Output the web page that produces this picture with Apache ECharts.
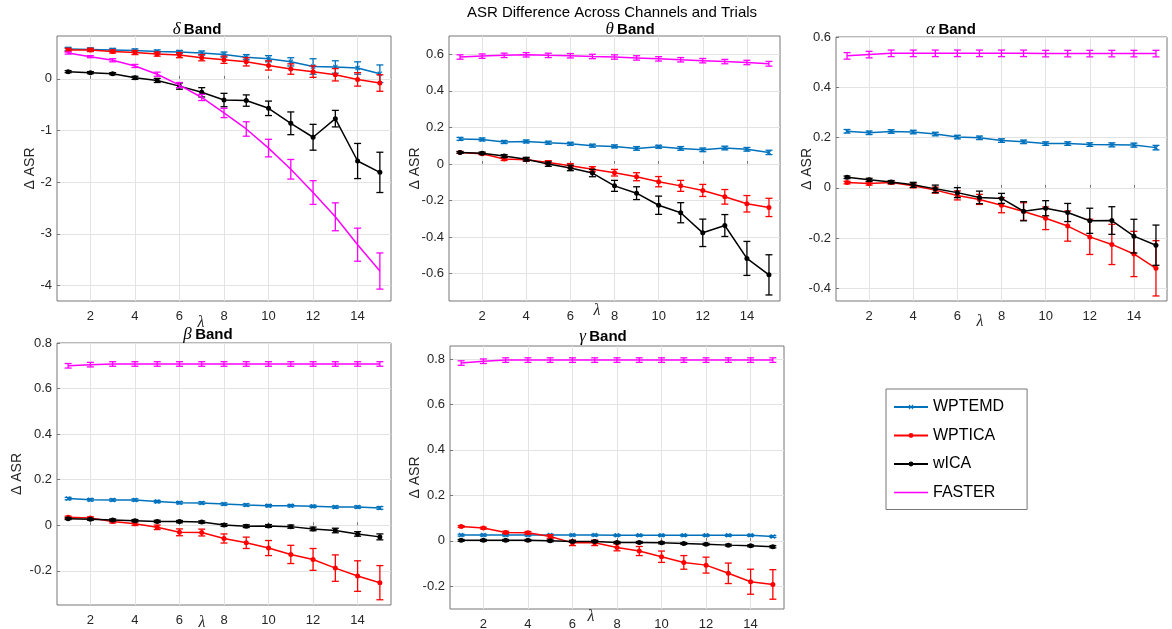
<!DOCTYPE html>
<html>
<head>
<meta charset="utf-8">
<script src="https://cdn.jsdelivr.net/npm/echarts@6/dist/echarts.min.js"></script>
<style>html,body{margin:0;padding:0;background:#fff;}#c{width:1172px;height:629px;}</style>
</head>
<body>
<div id="c"></div>
<script>
// ---------- DATA ----------
const lambdas = [1,2,3,4,5,6,7,8,9,10,11,12,13,14,15];
const methods = ['WPTEMD','WPTICA','wICA','FASTER'];
const xTicks = [2,4,6,8,10,12,14];

// delta band
const deltaWPTEMD    = [0.58,0.57,0.56,0.55,0.53,0.52,0.50,0.47,0.42,0.39,0.33,0.24,0.23,0.21,0.10];
const deltaWPTEMDErr = [0.03,0.03,0.03,0.03,0.03,0.03,0.04,0.05,0.05,0.06,0.08,0.15,0.12,0.12,0.17];
const deltaWPTICA    = [0.56,0.56,0.53,0.51,0.48,0.46,0.41,0.37,0.33,0.26,0.19,0.14,0.08,-0.01,-0.08];
const deltaWPTICAErr = [0.03,0.03,0.03,0.04,0.04,0.05,0.06,0.07,0.08,0.09,0.10,0.11,0.12,0.13,0.16];
const deltaWICA      = [0.14,0.12,0.10,0.02,-0.03,-0.14,-0.26,-0.41,-0.42,-0.57,-0.86,-1.13,-0.77,-1.59,-1.81];
const deltaWICAErr   = [0.02,0.02,0.02,0.03,0.04,0.06,0.09,0.13,0.11,0.14,0.22,0.25,0.16,0.34,0.39];
const deltaFASTER    = [0.50,0.43,0.36,0.25,0.09,-0.12,-0.36,-0.66,-0.97,-1.34,-1.75,-2.20,-2.67,-3.21,-3.72];
const deltaFASTERErr = [0.02,0.02,0.03,0.03,0.04,0.05,0.06,0.09,0.14,0.17,0.19,0.23,0.27,0.32,0.35];

// theta band
const thetaWPTEMD    = [0.137,0.134,0.120,0.123,0.116,0.110,0.100,0.096,0.085,0.094,0.085,0.077,0.087,0.080,0.063];
const thetaWPTEMDErr = [0.008,0.008,0.008,0.008,0.008,0.008,0.008,0.008,0.010,0.008,0.010,0.010,0.010,0.010,0.012];
const thetaWPTICA    = [0.063,0.056,0.027,0.023,0.008,-0.010,-0.029,-0.048,-0.070,-0.097,-0.120,-0.145,-0.180,-0.218,-0.238];
const thetaWPTICAErr = [0.005,0.006,0.008,0.008,0.010,0.012,0.014,0.018,0.022,0.028,0.030,0.033,0.040,0.045,0.050];
const thetaWICA      = [0.063,0.059,0.043,0.026,-0.001,-0.022,-0.050,-0.120,-0.160,-0.226,-0.267,-0.377,-0.337,-0.517,-0.607];
const thetaWICAErr   = [0.005,0.006,0.008,0.010,0.012,0.015,0.020,0.030,0.035,0.050,0.055,0.075,0.060,0.093,0.110];
const thetaFASTER    = [0.585,0.590,0.594,0.597,0.594,0.592,0.588,0.585,0.580,0.575,0.570,0.565,0.560,0.555,0.548];
const thetaFASTERErr = [0.012,0.012,0.012,0.012,0.012,0.012,0.012,0.012,0.012,0.012,0.012,0.012,0.012,0.012,0.013];

// alpha band
const alphaWPTEMD    = [0.225,0.219,0.224,0.222,0.214,0.202,0.199,0.188,0.183,0.176,0.176,0.172,0.171,0.170,0.160];
const alphaWPTEMDErr = [0.007,0.007,0.007,0.007,0.007,0.007,0.007,0.007,0.007,0.007,0.007,0.007,0.008,0.008,0.009];
const alphaWPTICA    = [0.021,0.017,0.021,0.008,-0.009,-0.030,-0.046,-0.069,-0.094,-0.121,-0.152,-0.195,-0.225,-0.263,-0.320];
const alphaWPTICAErr = [0.005,0.006,0.006,0.008,0.012,0.018,0.020,0.030,0.035,0.045,0.060,0.070,0.080,0.090,0.110];
const alphaWICA      = [0.042,0.032,0.023,0.012,-0.004,-0.019,-0.038,-0.042,-0.093,-0.081,-0.098,-0.131,-0.130,-0.192,-0.228];
const alphaWICAErr   = [0.005,0.006,0.006,0.010,0.015,0.020,0.025,0.020,0.038,0.030,0.036,0.050,0.055,0.067,0.080];
const alphaFASTER    = [0.525,0.530,0.535,0.535,0.535,0.535,0.535,0.535,0.535,0.534,0.534,0.534,0.534,0.534,0.534];
const alphaFASTERErr = [0.013,0.013,0.013,0.013,0.013,0.013,0.013,0.013,0.013,0.013,0.013,0.013,0.013,0.013,0.013];

// beta band
const betaWPTEMD     = [0.117,0.112,0.111,0.111,0.104,0.099,0.098,0.093,0.089,0.086,0.086,0.083,0.080,0.080,0.076];
const betaWPTEMDErr  = [0.005,0.005,0.005,0.005,0.005,0.005,0.005,0.005,0.005,0.005,0.005,0.005,0.005,0.005,0.006];
const betaWPTICA     = [0.035,0.032,0.017,0.007,-0.009,-0.031,-0.032,-0.058,-0.077,-0.100,-0.128,-0.150,-0.188,-0.223,-0.252];
const betaWPTICAErr  = [0.005,0.005,0.007,0.008,0.010,0.015,0.015,0.020,0.025,0.033,0.040,0.048,0.058,0.067,0.075];
const betaWICA       = [0.029,0.026,0.023,0.020,0.017,0.016,0.014,0.001,-0.004,-0.003,-0.006,-0.016,-0.023,-0.038,-0.051];
const betaWICAErr    = [0.004,0.004,0.005,0.005,0.005,0.005,0.005,0.006,0.006,0.006,0.007,0.008,0.010,0.010,0.013];
const betaFASTER     = [0.700,0.705,0.708,0.708,0.708,0.708,0.708,0.708,0.708,0.708,0.708,0.708,0.708,0.708,0.708];
const betaFASTERErr  = [0.010,0.010,0.010,0.010,0.010,0.010,0.010,0.010,0.010,0.010,0.010,0.010,0.010,0.010,0.010];

// gamma band
const gammaWPTEMD    = [0.025,0.025,0.025,0.025,0.025,0.025,0.025,0.024,0.024,0.024,0.024,0.024,0.024,0.024,0.019];
const gammaWPTEMDErr = [0.004,0.004,0.004,0.004,0.004,0.004,0.004,0.004,0.004,0.004,0.004,0.004,0.004,0.004,0.004];
const gammaWPTICA    = [0.063,0.056,0.037,0.035,0.019,-0.009,-0.009,-0.029,-0.045,-0.070,-0.095,-0.107,-0.143,-0.180,-0.192];
const gammaWPTICAErr = [0.004,0.004,0.005,0.006,0.008,0.012,0.012,0.015,0.020,0.025,0.030,0.035,0.045,0.055,0.065];
const gammaWICA      = [0.002,0.002,0.002,0.002,0.000,-0.003,-0.003,-0.007,-0.007,-0.009,-0.012,-0.015,-0.019,-0.022,-0.026];
const gammaWICAErr   = [0.004,0.004,0.004,0.004,0.004,0.004,0.004,0.004,0.004,0.004,0.004,0.004,0.004,0.004,0.005];
const gammaFASTER    = [0.782,0.790,0.795,0.795,0.795,0.795,0.795,0.795,0.795,0.795,0.795,0.795,0.795,0.795,0.795];
const gammaFASTERErr = [0.010,0.010,0.010,0.010,0.010,0.010,0.010,0.010,0.010,0.010,0.010,0.010,0.010,0.010,0.010];

const deltaYTicks = [-4,-3,-2,-1,0];
const thetaYTicks = [-0.6,-0.4,-0.2,0,0.2,0.4,0.6];
const alphaYTicks = [-0.4,-0.2,0,0.2,0.4,0.6];
const betaYTicks  = [-0.2,0,0.2,0.4,0.6,0.8];
const gammaYTicks = [-0.2,0,0.2,0.4,0.6,0.8];

// ---------- LAYOUT / STYLE ----------
const FONT = 'Liberation Sans, Arial, sans-serif';
const SERIF = 'Liberation Serif, Times New Roman, serif';
const colors = {WPTEMD:'#0072BD', WPTICA:'#FF0000', wICA:'#000000', FASTER:'#FF00FF'};
const xSymbol = 'path://M0,1.5L1.5,0L5,3.5L8.5,0L10,1.5L6.5,5L10,8.5L8.5,10L5,6.5L1.5,10L0,8.5L3.5,5Z';
const symbols = {WPTEMD:xSymbol, WPTICA:'circle', wICA:'circle', FASTER:'none'};
const symSize = {WPTEMD:5, WPTICA:5, wICA:5, FASTER:0};

const panels = [
  {greek:'δ', data:[deltaWPTEMD,deltaWPTICA,deltaWICA,deltaFASTER], err:[deltaWPTEMDErr,deltaWPTICAErr,deltaWICAErr,deltaFASTERErr],
   yTicks:deltaYTicks, ymin:-4.3, ymax:0.83, grid:{left:57,top:36,width:334,height:265}, title:[197,30], yGap:20, xGap:14, xPad:46},
  {greek:'θ', data:[thetaWPTEMD,thetaWPTICA,thetaWICA,thetaFASTER], err:[thetaWPTEMDErr,thetaWPTICAErr,thetaWICAErr,thetaFASTERErr],
   yTicks:thetaYTicks, ymin:-0.75, ymax:0.7, grid:{left:449,top:36,width:331,height:265}, title:[630,30], yGap:27, xGap:2, xPad:35},
  {greek:'α', data:[alphaWPTEMD,alphaWPTICA,alphaWICA,alphaFASTER], err:[alphaWPTEMDErr,alphaWPTICAErr,alphaWICAErr,alphaFASTERErr],
   yTicks:alphaYTicks, ymin:-0.45, ymax:0.6, grid:{left:836,top:37,width:331,height:264}, title:[951,30], yGap:22, xGap:13, xPad:43},
  {greek:'β', data:[betaWPTEMD,betaWPTICA,betaWICA,betaFASTER], err:[betaWPTEMDErr,betaWPTICAErr,betaWICAErr,betaFASTERErr],
   yTicks:betaYTicks, ymin:-0.35, ymax:0.8, grid:{left:57,top:343,width:334,height:262}, title:[208,335], yGap:33, xGap:10, xPad:44},
  {greek:'γ', data:[gammaWPTEMD,gammaWPTICA,gammaWICA,gammaFASTER], err:[gammaWPTEMDErr,gammaWPTICAErr,gammaWICAErr,gammaFASTERErr],
   yTicks:gammaYTicks, ymin:-0.3, ymax:0.857, grid:{left:450,top:346,width:334,height:263}, title:[603,337], yGap:28, xGap:0, xPad:52}
];

const grids = [], xAxes = [], yAxes = [], series = [], graphics = [];

panels.forEach((p, i) => {
  grids.push(Object.assign({show:true, borderColor:'#777', borderWidth:1, backgroundColor:'#fff',
                            containLabel:false, outerBoundsMode:'none'}, p.grid));
  xAxes.push({
    type:'value', gridIndex:i, min:0.5, max:15.5,
    name:'λ', nameLocation:'middle', nameGap:p.xGap, nameMoveOverlap:false,
    nameTextStyle:{fontFamily:SERIF, fontStyle:'italic', fontSize:16, color:'#262626', padding:[0,p.xPad,0,0]},
    axisLine:{show:false},
    axisTick:{show:true, inside:true, length:3, lineStyle:{color:'#777'}, customValues:xTicks},
    axisLabel:{customValues:xTicks, fontFamily:FONT, fontSize:13, color:'#262626', margin:9},
    splitLine:{show:true, lineStyle:{color:'#e3e3e3', width:1}}
  });
  yAxes.push({
    type:'value', gridIndex:i, min:p.ymin, max:p.ymax,
    name:'Δ ASR', nameLocation:'middle', nameGap:p.yGap, nameRotate:90, nameMoveOverlap:false,
    nameTextStyle:{fontFamily:FONT, fontSize:14, color:'#262626'},
    axisLine:{show:false},
    axisTick:{show:true, inside:true, length:3, lineStyle:{color:'#777'}, customValues:p.yTicks},
    axisLabel:{customValues:p.yTicks, fontFamily:FONT, fontSize:13, color:'#262626', margin:5},
    splitLine:{show:true, lineStyle:{color:'#e3e3e3', width:1}}
  });
  methods.forEach((m, k) => {
    const col = colors[m];
    series.push({
      name:m, type:'line', xAxisIndex:i, yAxisIndex:i,
      data: lambdas.map((x, j) => [x, p.data[k][j]]),
      symbol: symbols[m], symbolSize: symSize[m], showSymbol: m !== 'FASTER',
      lineStyle:{color:col, width:1.5},
      itemStyle:{color:col},
      z: 3 + k*2, animation:false, silent:true
    });
    series.push({
      name:m + ' error', type:'custom', xAxisIndex:i, yAxisIndex:i,
      data: lambdas.map((x, j) => [x, p.data[k][j], p.err[k][j]]),
      encode:{x:0, y:1},
      z: 4 + k*2, animation:false, silent:true,
      renderItem: function(params, api) {
        const x = api.value(0), y = api.value(1), e = api.value(2);
        const top = api.coord([x, y + e]);
        const bot = api.coord([x, y - e]);
        const hw = 3.5;
        const st = {stroke: col, lineWidth: 1.3, fill: null};
        return {type:'group', children:[
          {type:'line', shape:{x1:top[0], y1:top[1], x2:bot[0], y2:bot[1]}, style:st},
          {type:'line', shape:{x1:top[0]-hw, y1:top[1], x2:top[0]+hw, y2:top[1]}, style:st},
          {type:'line', shape:{x1:bot[0]-hw, y1:bot[1], x2:bot[0]+hw, y2:bot[1]}, style:st}
        ]};
      }
    });
  });
  graphics.push({
    type:'text', x:p.title[0], y:p.title[1], z:100,
    style:{
      text:'{g|' + p.greek + '} {b|Band}',
      align:'center', verticalAlign:'middle',
      rich:{
        g:{fontFamily:SERIF, fontStyle:'italic', fontSize:17, fill:'#000'},
        b:{fontFamily:FONT, fontWeight:'bold', fontSize:15, fill:'#000'}
      }
    }
  });
});

graphics.push({
  type:'text', x:612, y:13, z:100,
  style:{text:'ASR Difference Across Channels and Trials', align:'center', verticalAlign:'middle',
         fontFamily:FONT, fontSize:15, fill:'#000'}
});

const lineIcon = 'path://M0,0L100,0L100,4L0,4Z';
const chart = echarts.init(document.getElementById('c'), null, {renderer:'canvas'});
chart.setOption({
  animation:false,
  backgroundColor:'#fff',
  grid:grids, xAxis:xAxes, yAxis:yAxes, series:series,
  legend:{
    data:[{name:'WPTEMD'},{name:'WPTICA'},{name:'wICA'},{name:'FASTER', icon:lineIcon}],
    orient:'vertical', left:886, top:389,
    backgroundColor:'#fff', borderColor:'#777', borderWidth:1,
    padding:[10,23,9,7], itemGap:12.5, itemWidth:34, itemHeight:6,
    textStyle:{fontFamily:FONT, fontSize:16, color:'#000'}
  },
  graphic:graphics
});
</script>
</body>
</html>
